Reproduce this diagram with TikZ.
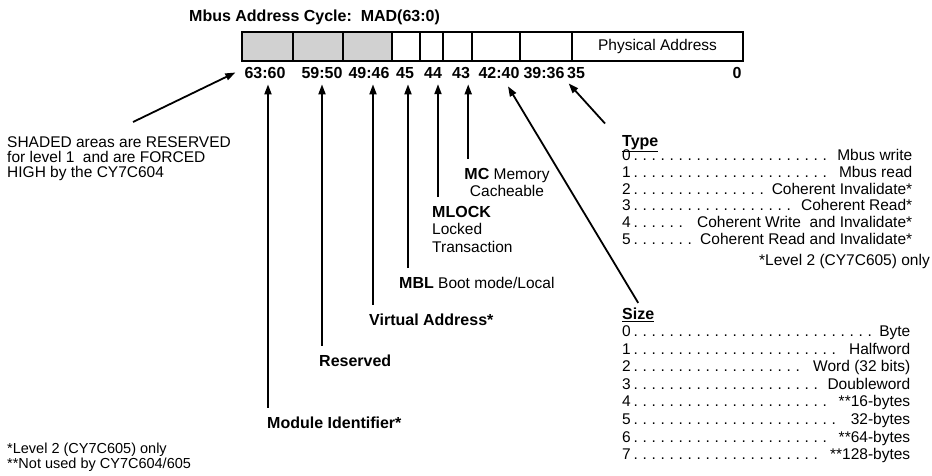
\documentclass[tikz,border=0pt]{standalone}
\usepackage{fontspec}
\setmainfont{Liberation Sans}
\usetikzlibrary{arrows.meta,positioning}
\newcommand{\txtfont}{\fontsize{15.5}{17.5}\selectfont}
\newcommand{\bldfont}{\fontsize{16}{17.5}\selectfont\bfseries}
\newcommand{\dotrow}[3]{\hbox to #1{#2\leaders\hbox to 9pt{\hss.\hss}\hfill\ #3}}
\tikzset{
  cell/.style={draw=black,line width=1.4pt,minimum height=29pt,inner sep=0pt,outer sep=0pt,font=\txtfont},
  stipple/.style={cell,fill=black!18},
  bitno/.style={font=\bldfont,inner sep=1pt,anchor=base},
  note/.style={font=\txtfont,inner sep=0pt,align=left},
  bnote/.style={font=\bldfont,inner sep=0pt,anchor=base west},
  entry/.style={font=\txtfont,inner sep=0pt,anchor=base west},
  ptr/.style={-{Triangle[length=10pt,width=7pt]},line width=1.8pt},
  up/.style={ptr,shorten <=9pt,shorten >=5pt}
}
\begin{document}
\begin{tikzpicture}[x=1pt,y=-1pt]
  \useasboundingbox (0,0) rectangle (932,475);
  \node[bnote] (title) at (189,21) {Mbus Address Cycle:\ \ MAD(63:0)};
  % register fields
  \node[stipple,minimum width=51pt,anchor=north west] (f6360) at (242,32) {};
  \node[stipple,minimum width=50pt,right=0pt of f6360] (f5950) {};
  \node[stipple,minimum width=49pt,right=0pt of f5950] (f4946) {};
  \node[cell,minimum width=28pt,right=0pt of f4946] (f45) {};
  \node[cell,minimum width=23pt,right=0pt of f45] (f44) {};
  \node[cell,minimum width=29pt,right=0pt of f44] (f43) {};
  \node[cell,minimum width=48pt,right=0pt of f43] (f4240) {};
  \node[cell,minimum width=52pt,right=0pt of f4240] (f3936) {};
  \node[cell,minimum width=171pt,right=0pt of f3936] (fphys) {Physical Address};
  \draw[line width=2.6pt] (f6360.north west) rectangle (fphys.south east);
  % bit numbers
  \node[bitno] (b6360) at (265,78) {63:60};
  \node[bitno] (b5950) at (322,78) {59:50};
  \node[bitno] (b4946) at (369,78) {49:46};
  \node[bitno] (b45) at (405,78) {45};
  \node[bitno] (b44) at (433,78) {44};
  \node[bitno] (b43) at (461,78) {43};
  \node[bitno] (b4240) at (499,78) {42:40};
  \node[bitno] (b3936) at (544,78) {39:36};
  \node[bitno] (b35) at (576,78) {35};
  \node[bitno] (b0) at (737,78) {0};
  % field notes
  \node[note,font=\fontsize{15.5}{15}\selectfont,anchor=north west] (shnote) at (7,136) {SHADED areas are RESERVED\\for level 1\ \ and are FORCED\\HIGH by the CY7C604};
  \node[bnote] (modid) at (267,428.7) {Module Identifier*};
  \node[bnote] (resv) at (319,366.7) {Reserved};
  \node[bnote] (virt) at (369,325.7) {Virtual Address*};
  \node[entry] (mbl) at (399,288.6) {{\bldfont MBL} Boot mode/Local};
  \node[note,anchor=north west] (mlock) at (432,206) {{\bldfont MLOCK}\\Locked\\Transaction};
  \node[note,align=center,anchor=north] (mc) at (507,168) {{\bldfont MC} Memory\\Cacheable};
  % type
  \node[bnote] (typehdr) at (622,146.7) {\underline{Type}};
  \node[entry] (ty0) at (622,160.5) {\dotrow{290pt}{0}{Mbus write}};
  \node[entry] (ty1) at (622,177.3) {\dotrow{290pt}{1}{Mbus read}};
  \node[entry] (ty2) at (622,194.1) {\dotrow{290pt}{2}{Coherent Invalidate*}};
  \node[entry] (ty3) at (622,210.9) {\dotrow{290pt}{3}{Coherent Read*}};
  \node[entry] (ty4) at (622,227.7) {\dotrow{290pt}{4}{Coherent Write\ \ and Invalidate*}};
  \node[entry] (ty5) at (622,244.5) {\dotrow{290pt}{5}{Coherent Read and Invalidate*}};
  \node[entry,anchor=base east] (lvl2) at (930,265.5) {*Level 2 (CY7C605) only};
  % size
  \node[bnote] (sizehdr) at (622,319.7) {\underline{Size}};
  \node[entry] (sz0) at (622,336.5) {\dotrow{288pt}{0}{Byte}};
  \node[entry] (sz1) at (622,354.1) {\dotrow{288pt}{1}{Halfword}};
  \node[entry] (sz2) at (622,371.7) {\dotrow{288pt}{2}{Word (32 bits)}};
  \node[entry] (sz3) at (622,389.3) {\dotrow{288pt}{3}{Doubleword}};
  \node[entry] (sz4) at (622,406.9) {\dotrow{288pt}{4}{**16-bytes}};
  \node[entry] (sz5) at (622,424.5) {\dotrow{288pt}{5}{32-bytes}};
  \node[entry] (sz6) at (622,442.1) {\dotrow{288pt}{6}{**64-bytes}};
  \node[entry] (sz7) at (622,459.7) {\dotrow{288pt}{7}{**128-bytes}};
  % footnotes
  \node[entry,font=\fontsize{14.5}{14}\selectfont] (fn1) at (7,453.5) {*Level 2 (CY7C605) only};
  \node[entry,font=\fontsize{14.5}{14}\selectfont] (fn2) at (7,468) {**Not used by CY7C604/605};
  % pointers
  \draw[ptr] ([xshift=14pt,yshift=14pt]shnote.north) -- ([xshift=-8pt]b6360.west);
  \draw[up] ([xshift=1pt]modid.north west) -- ([xshift=1pt]modid.north west |- b6360.south);
  \draw[up] ([xshift=3pt]resv.north west) -- ([xshift=3pt]resv.north west |- b5950.south);
  \draw[up] ([xshift=4pt]virt.north west) -- ([xshift=4pt]virt.north west |- b4946.south);
  \draw[up] ([xshift=9pt]mbl.north west) -- ([xshift=9pt]mbl.north west |- b45.south);
  \draw[up] ([xshift=6pt]mlock.north west) -- ([xshift=6pt]mlock.north west |- b44.south);
  \draw[up] ([xshift=4pt]mc.north west) -- ([xshift=4pt]mc.north west |- b43.south);
  \draw[ptr] ([yshift=5pt]sizehdr.north) -- ([xshift=9pt,yshift=-7pt]b4240.south);
  \draw[ptr] ([xshift=-17pt,yshift=12pt]typehdr.north west) -- ([xshift=3pt,yshift=-4pt]b3936.south east);
\end{tikzpicture}
\end{document}
